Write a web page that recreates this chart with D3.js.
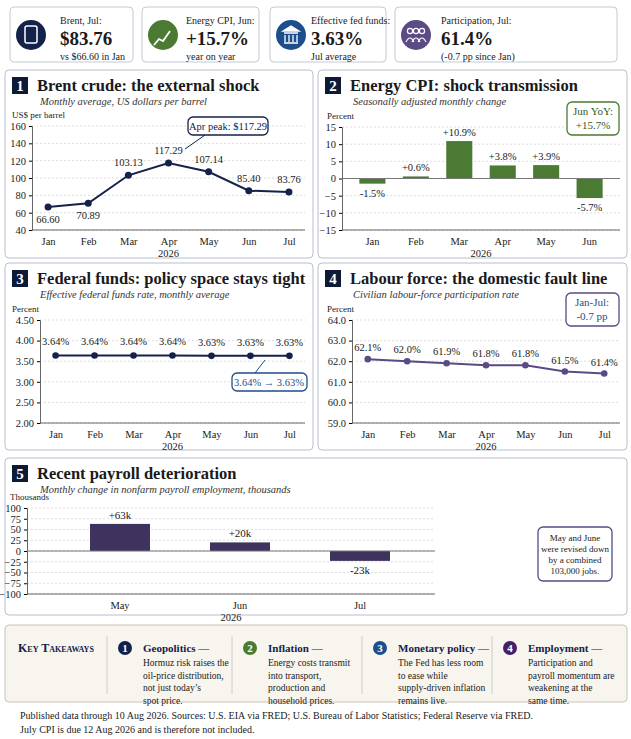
<!DOCTYPE html>
<html><head><meta charset="utf-8">
<script src="https://cdn.jsdelivr.net/npm/d3@7"></script>
<style>
body{margin:0;background:#fff;font-family:"Liberation Serif","DejaVu Serif",serif}
text{font-family:"Liberation Serif","DejaVu Serif",serif;fill:#1a1a1a}
</style></head><body>
<svg id="c" width="631" height="739"></svg>
<script>
var svg = d3.select('#c')
var NAVY = '#14214b', GREEN = '#4b7a33', BLUE = '#1d4e8c', PURPLE = '#5a4a86', BAR5 = '#3e335f'

var kpis = [
    {x: 10, w: 123, tx: 50, col: NAVY, t1: 'Brent, Jul:', t2: '$83.76', t3: 'vs $66.60 in Jan'},
    {x: 142, w: 117, tx: 44, col: GREEN, t1: 'Energy CPI, Jun:', t2: '+15.7%', t3: 'year on year'},
    {x: 270, w: 116, tx: 41, col: BLUE, t1: 'Effective fed funds:', t2: '3.63%', t3: 'Jul average'},
    {x: 395, w: 222, tx: 46, col: PURPLE, t1: 'Participation, Jul:', t2: '61.4%', t3: '(-0.7 pp since Jan)'}
]
kpis.forEach(function (k) {
    var g = svg.append('g').attr('transform', 'translate(' + k.x + ',7)')
    g.append('rect').attr('width', k.w).attr('height', 55).attr('rx', 4)
        .attr('fill', '#fff').attr('stroke', '#c4c9d1')
    g.append('circle').attr('cx', 21).attr('cy', 28).attr('r', 15).attr('fill', k.col)
    g.append('text').attr('x', k.tx).attr('y', 17).attr('font-size', 10).text(k.t1)
    g.append('text').attr('x', k.tx).attr('y', 38).attr('font-size', 19).attr('font-weight', 'bold').text(k.t2)
    g.append('text').attr('x', k.tx).attr('y', 53).attr('font-size', 10).text(k.t3)
})
// tiny icons
svg.append('rect').attr('x', 25).attr('y', 26).attr('width', 12).attr('height', 17).attr('rx', 2).attr('fill', 'none').attr('stroke', '#fff').attr('stroke-width', 1.5)
svg.append('polyline').attr('points', '154,45 159,39 163,41 170,31').attr('fill', 'none').attr('stroke', '#fff').attr('stroke-width', 1.8)
svg.append('path').attr('d', 'M283,31 L291,26 L299,31 Z M284,33 h14 M285,35 v7 M289,35 v7 M293,35 v7 M297,35 v7 M284,43 h14').attr('fill', '#fff').attr('stroke', '#fff').attr('stroke-width', 1.3)
;[410, 416, 422].forEach(function (cx, i) {
    svg.append('circle').attr('cx', cx).attr('cy', 31).attr('r', 2.6).attr('fill', 'none').attr('stroke', '#fff').attr('stroke-width', 1.2)
    svg.append('path').attr('d', 'M' + (cx - 4) + ',42 q4,-8 8,0').attr('fill', 'none').attr('stroke', '#fff').attr('stroke-width', 1.2)
})

function panel(x, y, w, h, num, title, sub) {
    var g = svg.append('g').attr('transform', 'translate(' + x + ',' + y + ')')
    g.append('rect').attr('width', w).attr('height', h).attr('rx', 4).attr('fill', '#fff').attr('stroke', '#b8c0cc')
    g.append('rect').attr('x', 7).attr('y', 7).attr('width', 16).attr('height', 17).attr('fill', '#0d1a35')
    g.append('text').attr('x', 15).attr('y', 21).attr('text-anchor', 'middle').attr('font-size', 15)
        .attr('font-weight', 'bold').style('fill', '#fff').text(num)
    g.append('text').attr('x', 32).attr('y', 21).attr('font-size', 16.5).attr('font-weight', 'bold').text(title)
    g.append('text').attr('x', 35).attr('y', 35).attr('font-size', 10.5).attr('font-style', 'italic').style('fill', '#333').text(sub)
    return g
}

// xr: optional [left,right] of the axis frame when it differs from the scale range
function axes(xs, ys, ticks, fmt, unit, unitX, xr) {
    var g = svg.append('g')
    xr = xr || xs.range()
    ticks.forEach(function (t) {
        g.append('line').attr('x1', xr[0]).attr('x2', xr[1]).attr('y1', ys(t)).attr('y2', ys(t))
            .attr('stroke', '#ddd').attr('stroke-dasharray', '2,2')
    })
    var ya = g.append('g').attr('transform', 'translate(' + xr[0] + ',0)')
        .call(d3.axisLeft(ys).tickValues(ticks).tickFormat(fmt).tickSize(3))
    ya.selectAll('text').attr('font-size', 10.5).style('font-family', 'Liberation Serif')
    ya.select('.domain').attr('stroke', '#666')
    var xa = g.append('g').attr('transform', 'translate(0,' + ys.range()[0] + ')')
        .call(d3.axisBottom(xs).tickSize(0).tickPadding(8))
    xa.selectAll('text').attr('font-size', 10.5).style('font-family', 'Liberation Serif')
    xa.select('.domain').remove()
    g.append('line').attr('x1', xr[0]).attr('x2', xr[1]).attr('y1', ys.range()[0]).attr('y2', ys.range()[0]).attr('stroke', '#666')
    g.append('text').attr('x', (xr[0] + xr[1]) / 2).attr('y', ys.range()[0] + 27)
        .attr('text-anchor', 'middle').attr('font-size', 10.5).text('2026')
    g.append('text').attr('x', unitX).attr('y', ys.range()[1] - 8).attr('font-size', 9).text(unit)
}

// ---- 1 Brent
var brent = [['Jan', 66.60], ['Feb', 70.89], ['Mar', 103.13], ['Apr', 117.29], ['May', 107.14], ['Jun', 85.40], ['Jul', 83.76]]
panel(5, 70, 308, 188, '1', 'Brent crude: the external shock', 'Monthly average, US dollars per barrel')
var x1 = d3.scalePoint().domain(brent.map(function (d) { return d[0] })).range([32, 305]).padding(0.4)
var y1 = d3.scaleLinear().domain([40, 160]).range([230, 126])
axes(x1, y1, [40, 60, 80, 100, 120, 140, 160], d3.format('d'), 'US$ per barrel', 12)
svg.append('path').datum(brent).attr('fill', 'none').attr('stroke', NAVY).attr('stroke-width', 2)
    .attr('d', d3.line().x(function (d) { return x1(d[0]) }).y(function (d) { return y1(d[1]) }))
svg.selectAll('.b1').data(brent).enter().append('circle').attr('cx', function (d) { return x1(d[0]) })
    .attr('cy', function (d) { return y1(d[1]) }).attr('r', 3.5).attr('fill', NAVY)
svg.selectAll('.l1').data(brent).enter().append('text').attr('text-anchor', 'middle').attr('font-size', 10.5)
    .attr('x', function (d) { return x1(d[0]) })
    .attr('y', function (d, i) { return i < 2 ? y1(d[1]) + 16 : y1(d[1]) - 9 })
    .text(function (d) { return d[1].toFixed(2) })
svg.append('rect').attr('x', 188).attr('y', 117).attr('width', 80).attr('height', 18).attr('rx', 5).attr('fill', '#fff').attr('stroke', NAVY).attr('stroke-width', 1.3)
svg.append('text').attr('x', 228).attr('y', 130).attr('text-anchor', 'middle').attr('font-size', 10.5).style('fill', NAVY).text('Apr peak: $117.29')
svg.append('line').attr('x1', 205).attr('y1', 135).attr('x2', 185).attr('y2', 149).attr('stroke', NAVY)

// ---- 2 Energy CPI
var cpi = [['Jan', -1.5], ['Feb', 0.6], ['Mar', 10.9], ['Apr', 3.8], ['May', 3.9], ['Jun', -5.7]]
panel(318, 70, 309, 188, '2', 'Energy CPI: shock transmission', 'Seasonally adjusted monthly change')
var x2 = d3.scaleBand().domain(cpi.map(function (d) { return d[0] })).range([342, 620]).padding(0.4)
var y2 = d3.scaleLinear().domain([-15, 15]).range([230, 127])
axes(x2, y2, [-15, -10, -5, 0, 5, 10, 15], d3.format('d'), 'Percent', 327)
svg.selectAll('.b2').data(cpi).enter().append('rect').attr('x', function (d) { return x2(d[0]) })
    .attr('width', x2.bandwidth()).attr('y', function (d) { return y2(Math.max(0, d[1])) })
    .attr('height', function (d) { return Math.abs(y2(d[1]) - y2(0)) }).attr('fill', GREEN)
svg.append('line').attr('x1', 342).attr('x2', 620).attr('y1', y2(0)).attr('y2', y2(0)).attr('stroke', '#777')
svg.selectAll('.l2').data(cpi).enter().append('text').attr('text-anchor', 'middle').attr('font-size', 10.5)
    .attr('x', function (d) { return x2(d[0]) + x2.bandwidth() / 2 })
    .attr('y', function (d) { return d[1] >= 0 ? y2(d[1]) - 5 : y2(d[1]) + 13 })
    .text(function (d) { return (d[1] > 0 ? '+' : '') + d[1].toFixed(1) + '%' })
svg.append('rect').attr('x', 567).attr('y', 102).attr('width', 52).attr('height', 33).attr('rx', 5).attr('fill', '#fff').attr('stroke', GREEN).attr('stroke-width', 1.3)
svg.append('text').attr('x', 593).attr('y', 115).attr('text-anchor', 'middle').attr('font-size', 11).style('fill', '#2f5a1e').text('Jun YoY:')
svg.append('text').attr('x', 593).attr('y', 129).attr('text-anchor', 'middle').attr('font-size', 11).style('fill', '#2f5a1e').text('+15.7%')

// ---- 3 Fed funds
var ff = [['Jan', 3.64], ['Feb', 3.64], ['Mar', 3.64], ['Apr', 3.64], ['May', 3.63], ['Jun', 3.63], ['Jul', 3.63]]
panel(5, 263, 308, 187, '3', 'Federal funds: policy space stays tight', 'Effective federal funds rate, monthly average')
var x3 = d3.scalePoint().domain(ff.map(function (d) { return d[0] })).range([40, 305]).padding(0.4)
var y3 = d3.scaleLinear().domain([2, 4.5]).range([423, 320])
axes(x3, y3, [2, 2.5, 3, 3.5, 4, 4.5], d3.format('.2f'), 'Percent', 12)
svg.append('path').datum(ff).attr('fill', 'none').attr('stroke', NAVY).attr('stroke-width', 2)
    .attr('d', d3.line().x(function (d) { return x3(d[0]) }).y(function (d) { return y3(d[1]) }))
svg.selectAll('.b3').data(ff).enter().append('circle').attr('cx', function (d) { return x3(d[0]) })
    .attr('cy', function (d) { return y3(d[1]) }).attr('r', 3.3).attr('fill', NAVY)
svg.selectAll('.l3').data(ff).enter().append('text').attr('text-anchor', 'middle').attr('font-size', 10.5)
    .attr('x', function (d) { return x3(d[0]) }).attr('y', function (d) { return y3(d[1]) - 10 })
    .text(function (d) { return d[1].toFixed(2) + '%' })
svg.append('rect').attr('x', 232).attr('y', 373).attr('width', 75).attr('height', 18).attr('rx', 5).attr('fill', '#fff').attr('stroke', BLUE).attr('stroke-width', 1.3)
svg.append('text').attr('x', 269).attr('y', 386).attr('text-anchor', 'middle').attr('font-size', 10.5).style('fill', BLUE).text('3.64% \u2192 3.63%')
svg.append('line').attr('x1', 255).attr('y1', 373).attr('x2', 265).attr('y2', 360).attr('stroke', BLUE)

// ---- 4 Participation
var lf = [['Jan', 62.1], ['Feb', 62.0], ['Mar', 61.9], ['Apr', 61.8], ['May', 61.8], ['Jun', 61.5], ['Jul', 61.4]]
panel(318, 263, 309, 187, '4', 'Labour force: the domestic fault line', 'Civilian labour-force participation rate')
var x4 = d3.scalePoint().domain(lf.map(function (d) { return d[0] })).range([352, 620]).padding(0.4)
var y4 = d3.scaleLinear().domain([59, 64]).range([423, 320])
axes(x4, y4, [59, 60, 61, 62, 63, 64], d3.format('.1f'), 'Percent', 327)
svg.append('path').datum(lf).attr('fill', 'none').attr('stroke', PURPLE).attr('stroke-width', 2)
    .attr('d', d3.line().x(function (d) { return x4(d[0]) }).y(function (d) { return y4(d[1]) }))
svg.selectAll('.b4').data(lf).enter().append('circle').attr('cx', function (d) { return x4(d[0]) })
    .attr('cy', function (d) { return y4(d[1]) }).attr('r', 3.3).attr('fill', PURPLE)
svg.selectAll('.l4').data(lf).enter().append('text').attr('text-anchor', 'middle').attr('font-size', 10.5)
    .attr('x', function (d) { return x4(d[0]) }).attr('y', function (d) { return y4(d[1]) - 8 })
    .text(function (d) { return d[1].toFixed(1) + '%' })
svg.append('rect').attr('x', 566).attr('y', 293).attr('width', 53).attr('height', 33).attr('rx', 5).attr('fill', '#fff').attr('stroke', PURPLE).attr('stroke-width', 1.3)
svg.append('text').attr('x', 592).attr('y', 306).attr('text-anchor', 'middle').attr('font-size', 11).style('fill', BLUE).text('Jan-Jul:')
svg.append('text').attr('x', 592).attr('y', 320).attr('text-anchor', 'middle').attr('font-size', 11).style('fill', BLUE).text('-0.7 pp')

// ---- 5 Payrolls
var pay = [['May', 63], ['Jun', 20], ['Jul', -23]]
panel(5, 458, 622, 157, '5', 'Recent payroll deterioration', 'Monthly change in nonfarm payroll employment, thousands')
var x5 = d3.scaleBand().domain(pay.map(function (d) { return d[0] })).range([60, 420]).paddingInner(0.5).paddingOuter(0.25)
var y5 = d3.scaleLinear().domain([-100, 100]).range([594, 508])
axes(x5, y5, [-100, -75, -50, -25, 0, 25, 50, 75, 100], function (d) { return d < 0 ? '\u2212' + (-d) : d }, 'Thousands', 10, [27, 435])
svg.selectAll('.b5').data(pay).enter().append('rect').attr('x', function (d) { return x5(d[0]) })
    .attr('width', x5.bandwidth()).attr('y', function (d) { return y5(Math.max(0, d[1])) })
    .attr('height', function (d) { return Math.abs(y5(d[1]) - y5(0)) }).attr('fill', BAR5)
svg.append('line').attr('x1', 27).attr('x2', 435).attr('y1', y5(0)).attr('y2', y5(0)).attr('stroke', '#777')
svg.selectAll('.l5').data(pay).enter().append('text').attr('text-anchor', 'middle').attr('font-size', 11)
    .attr('x', function (d) { return x5(d[0]) + x5.bandwidth() / 2 })
    .attr('y', function (d) { return d[1] >= 0 ? y5(d[1]) - 5 : y5(d[1]) + 13 })
    .text(function (d) { return (d[1] > 0 ? '+' : '') + d[1] + 'k' })
svg.append('rect').attr('x', 538).attr('y', 527).attr('width', 74).attr('height', 54).attr('rx', 5).attr('fill', '#fff').attr('stroke', PURPLE).attr('stroke-width', 1.3)
;['May and June', 'were revised down', 'by a combined', '103,000 jobs.'].forEach(function (t, i) {
    svg.append('text').attr('x', 575).attr('y', 541 + i * 11).attr('text-anchor', 'middle').attr('font-size', 9).text(t)
})

// ---- Takeaways
svg.append('rect').attr('x', 5).attr('y', 625).attr('width', 622).attr('height', 77).attr('rx', 4).attr('fill', '#f8f5ee').attr('stroke', '#c9c4b5')
svg.append('text').attr('x', 18).attr('y', 652).attr('font-size', 12).attr('font-weight', 'bold').style('fill', NAVY)
    .style('font-variant', 'small-caps').text('Key Takeaways')
var take = [
    {x: 120, col: NAVY, h: 'Geopolitics \u2014', l: ['Hormuz risk raises the', 'oil-price distribution,', 'not just today\u2019s', 'spot price.']},
    {x: 245, col: GREEN, h: 'Inflation \u2014', l: ['Energy costs transmit', 'into transport,', 'production and', 'household prices.']},
    {x: 375, col: BLUE, h: 'Monetary policy \u2014', l: ['The Fed has less room', 'to ease while', 'supply-driven inflation', 'remains live.']},
    {x: 505, col: '#43206a', h: 'Employment \u2014', l: ['Participation and', 'payroll momentum are', 'weakening at the', 'same time.']}
]
take.forEach(function (t, i) {
    svg.append('line').attr('x1', t.x - 13).attr('x2', t.x - 13).attr('y1', 636).attr('y2', 694).attr('stroke', '#ccc')
    svg.append('circle').attr('cx', t.x + 5).attr('cy', 648).attr('r', 7).attr('fill', t.col)
    svg.append('text').attr('x', t.x + 5).attr('y', 652).attr('text-anchor', 'middle').attr('font-size', 11)
        .attr('font-weight', 'bold').style('fill', '#fff').text(i + 1)
    svg.append('text').attr('x', t.x + 23).attr('y', 652).attr('font-size', 11).attr('font-weight', 'bold').style('fill', NAVY).text(t.h)
    t.l.forEach(function (s, j) {
        svg.append('text').attr('x', t.x + 23).attr('y', 666 + j * 12.5).attr('font-size', 9.5).text(s)
    })
})
svg.append('text').attr('x', 20).attr('y', 719).attr('font-size', 10).text('Published data through 10 Aug 2026. Sources: U.S. EIA via FRED; U.S. Bureau of Labor Statistics; Federal Reserve via FRED.')
svg.append('text').attr('x', 20).attr('y', 733).attr('font-size', 10).text('July CPI is due 12 Aug 2026 and is therefore not included.')
</script>
</body></html>
